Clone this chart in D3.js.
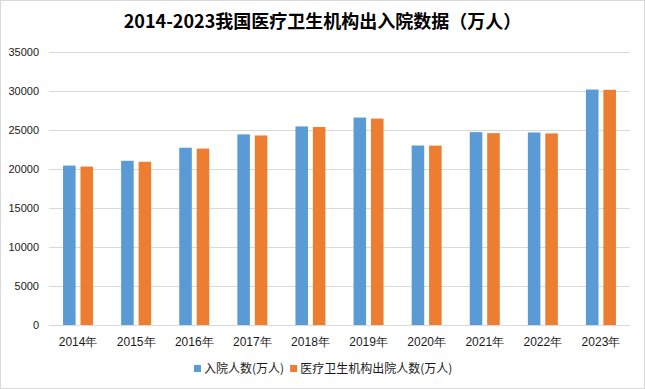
<!DOCTYPE html>
<html lang="zh">
<head>
<meta charset="UTF-8">
<title>2014-2023我国医疗卫生机构出入院数据</title>
<script src="https://cdnjs.cloudflare.com/ajax/libs/d3/7.8.5/d3.min.js"></script>
<style>
  body { margin: 0; background: #fff; }
  svg { display: block; font-family: "Noto Sans CJK SC", "Noto Sans", sans-serif; }
  .grid line { stroke: #d9d9d9; stroke-width: 1; }
  .tick text { fill: #1a1a1a; font-size: 11px; }
  .xaxis .tick text { font-size: 12px; }
</style>
</head>
<body>
<svg id="chart"></svg>
<script>
// data
const years = ["2014年", "2015年", "2016年", "2017年", "2018年", "2019年", "2020年", "2021年", "2022年", "2023年"];
const admissions = [20441, 21053, 22728, 24436, 25454, 26596, 23013, 24726, 24686, 30187];
const discharges = [20311, 20926, 22617, 24300, 25380, 26460, 23000, 24600, 24560, 30150];
const seriesNames = ["入院人数(万人)", "医疗卫生机构出院人数(万人)"];
const colors = ["#5b9bd5", "#ed7d31"];
const yTicks = [0, 5000, 10000, 15000, 20000, 25000, 30000, 35000];

const width = 645, height = 389;
const margin = { top: 52, right: 15, bottom: 64, left: 49 };

const svg = d3.select("#chart").attr("width", width).attr("height", height);

// outer border
svg.append("rect")
  .attr("x", 0.5).attr("y", 0.5)
  .attr("width", width - 1).attr("height", height - 1)
  .attr("fill", "#fff").attr("stroke", "#d9d9d9");

svg.append("text")
  .attr("x", width / 2).attr("y", 28)
  .attr("text-anchor", "middle")
  .attr("font-size", 18).attr("font-weight", "bold").attr("fill", "#000")
  .text("2014-2023我国医疗卫生机构出入院数据（万人）");

const x = d3.scaleBand().domain(years).range([margin.left, width - margin.right]);
const inner = d3.scaleBand().domain([0, 1]).range([x.bandwidth() / 2 - 15, x.bandwidth() / 2 + 15]).paddingInner(0.28);
const y = d3.scaleLinear().domain([0, 35000]).range([height - margin.bottom, margin.top]);

// gridlines
svg.append("g").attr("class", "grid")
  .selectAll("line").data(yTicks).enter().append("line")
  .attr("x1", margin.left).attr("x2", width - margin.right)
  .attr("y1", d => Math.round(y(d)) + 0.5).attr("y2", d => Math.round(y(d)) + 0.5);

// y axis labels
const yAxis = svg.append("g")
  .attr("transform", `translate(${margin.left - 7},0)`)
  .call(d3.axisLeft(y).tickValues(yTicks).tickSize(0).tickFormat(d3.format("d")));
yAxis.select(".domain").remove();

// x axis labels
const xAxis = svg.append("g").attr("class", "xaxis")
  .attr("transform", `translate(0,${height - margin.bottom + 9})`)
  .call(d3.axisBottom(x).tickSize(0));
xAxis.select(".domain").remove();

const series = [admissions, discharges];
series.forEach((vals, i) => {
  svg.append("g")
    .selectAll("rect").data(vals).enter().append("rect")
    .attr("x", (d, j) => x(years[j]) + inner(i))
    .attr("width", inner.bandwidth())
    .attr("y", d => y(d))
    .attr("height", d => y(0) - y(d))
    .attr("fill", colors[i]);
});

// legend
const legend = svg.append("g").attr("transform", "translate(194,373)");
let lx = 0;
seriesNames.forEach((name, i) => {
  const g = legend.append("g").attr("transform", `translate(${lx},0)`);
  g.append("rect").attr("x", 0).attr("y", -8).attr("width", 7).attr("height", 7).attr("fill", colors[i]);
  const t = g.append("text").attr("x", 10).attr("y", 0)
    .attr("font-size", 12).attr("fill", "#1a1a1a").text(name);
  lx += 10 + t.node().getComputedTextLength() + 6;
});
</script>
</body>
</html>
